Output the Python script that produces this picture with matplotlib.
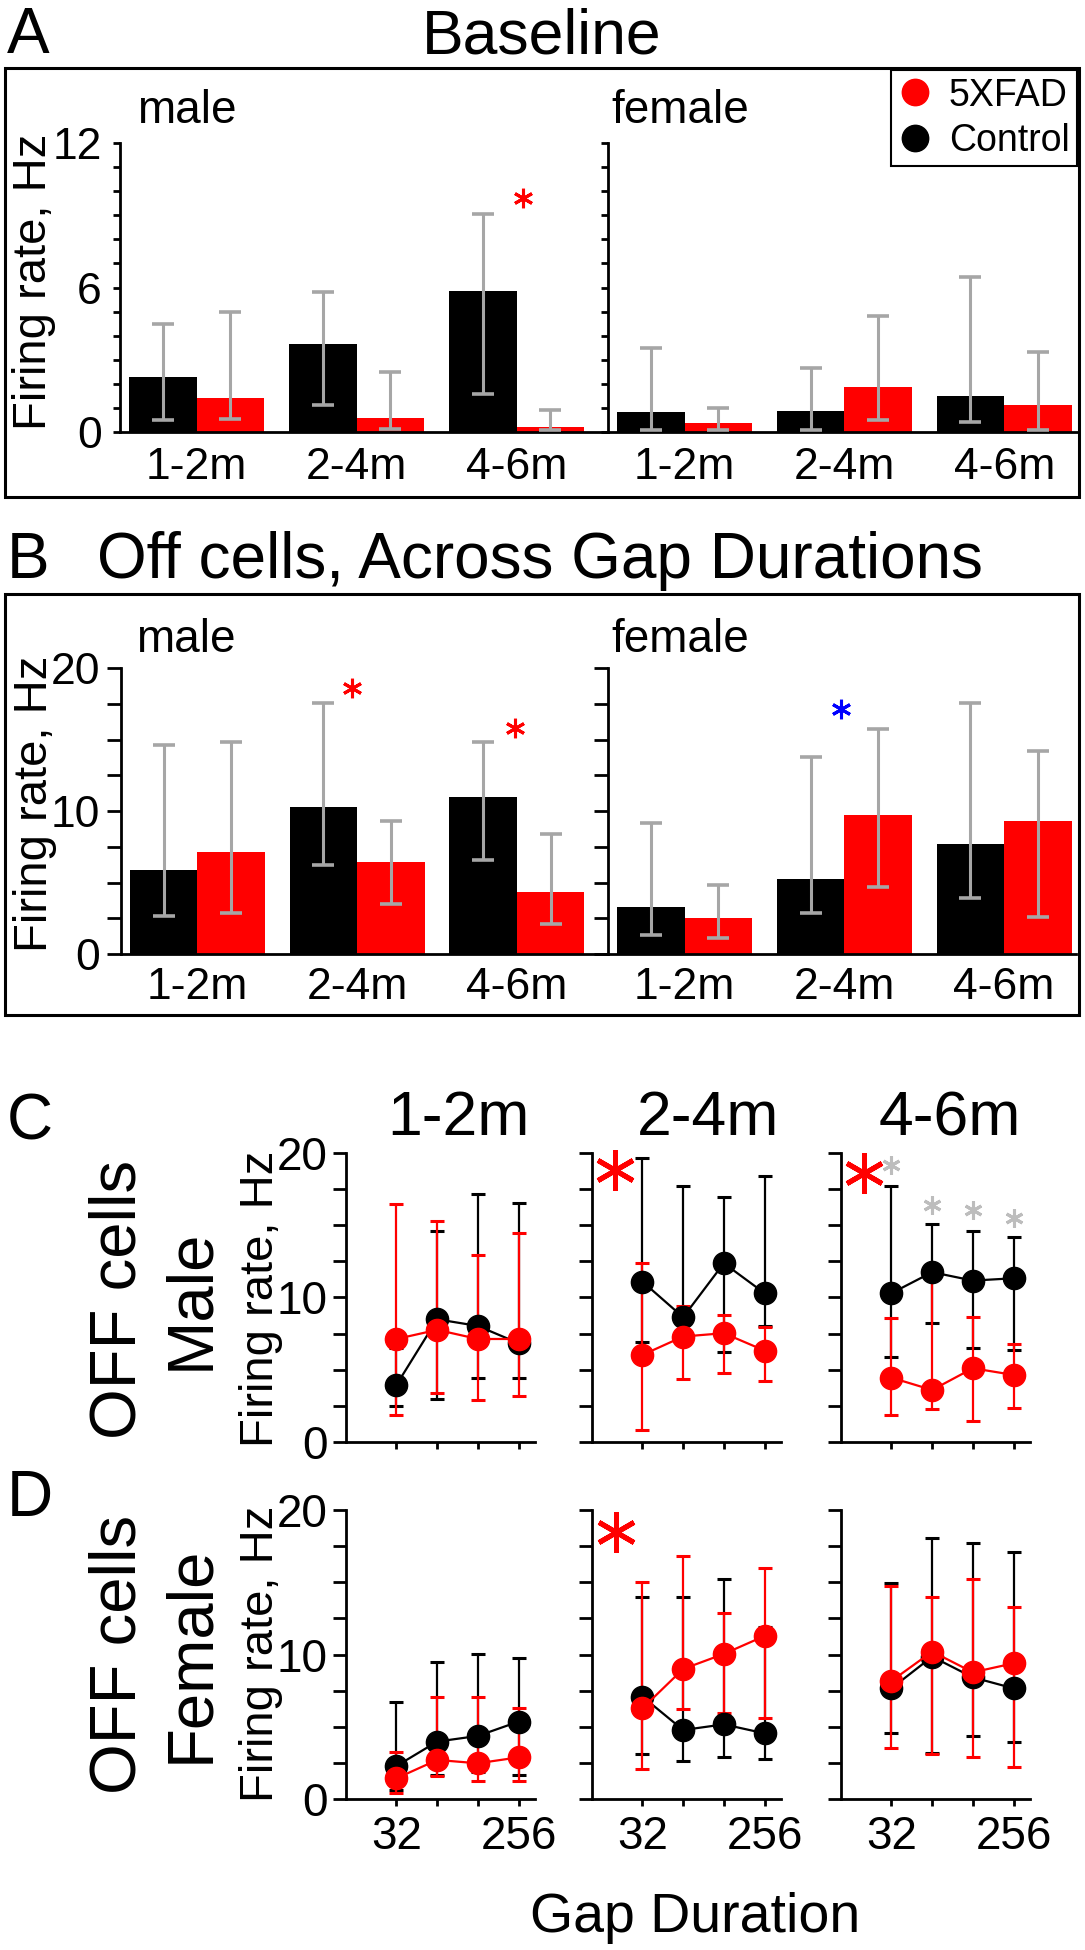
import numpy as np
import matplotlib
matplotlib.use("Agg")
import matplotlib.pyplot as plt
from matplotlib.patches import Rectangle
from matplotlib.lines import Line2D
from matplotlib.ticker import MultipleLocator

plt.rcParams['font.family'] = ['Liberation Sans', 'DejaVu Sans']

W, H, DPI = 1085, 1950, 100
RED = '#ff0000'
ERR_GRAY = '#a6a6a6'
STAR_GRAY = '#bdbdbd'
BLUE = '#0000ff'

# ── DATA ─────────────────────────────────────────────────────────────────────
groups = ['1-2m', '2-4m', '4-6m']

# Panel A: baseline firing rate (bar = median, whiskers = lo/hi)
a_male_ctrl = [2.30, 3.67, 5.85]
a_male_ctrl_lo = [0.48, 1.13, 1.57]
a_male_ctrl_hi = [4.50, 5.81, 9.04]
a_male_fad = [1.43, 0.58, 0.21]
a_male_fad_lo = [0.54, 0.12, 0.10]
a_male_fad_hi = [4.98, 2.50, 0.92]
a_fem_ctrl = [0.85, 0.89, 1.50]
a_fem_ctrl_lo = [0.10, 0.10, 0.40]
a_fem_ctrl_hi = [3.50, 2.64, 6.45]
a_fem_fad = [0.37, 1.86, 1.13]
a_fem_fad_lo = [0.10, 0.51, 0.10]
a_fem_fad_hi = [0.99, 4.80, 3.33]

# Panel B: off cells across gap durations
b_male_ctrl = [5.86, 10.28, 10.98]
b_male_ctrl_lo = [2.67, 6.21, 6.56]
b_male_ctrl_hi = [14.63, 17.53, 14.81]
b_male_fad = [7.14, 6.44, 4.35]
b_male_fad_lo = [2.88, 3.53, 2.07]
b_male_fad_hi = [14.81, 9.28, 8.42]
b_fem_ctrl = [3.30, 5.23, 7.67]
b_fem_ctrl_lo = [1.33, 2.84, 3.93]
b_fem_ctrl_hi = [9.16, 13.81, 17.53]
b_fem_fad = [2.49, 9.70, 9.28]
b_fem_fad_lo = [1.14, 4.70, 2.60]
b_fem_fad_hi = [4.86, 15.70, 14.23]

# Panels C/D: firing rate vs gap duration, one row per age group
gap_ms = [32, 64, 128, 256]
gap_labels = ['32', '', '', '256']

c_ctrl = [[3.96, 8.49, 8.03, 6.84], [11.09, 8.63, 12.36, 10.29], [10.29, 11.74, 11.16, 11.32]]
c_ctrl_lo = [[2.53, 2.99, 4.42, 4.42], [6.90, 7.40, 6.21, 8.00], [5.87, 8.22, 6.49, 6.38]]
c_ctrl_hi = [[6.49, 14.60, 17.12, 16.50], [19.65, 17.70, 16.96, 18.39], [17.70, 15.05, 14.61, 14.15]]
c_fad = [[7.13, 7.76, 7.13, 7.13], [6.03, 7.30, 7.53, 6.33], [4.46, 3.61, 5.11, 4.65]]
c_fad_lo = [[1.89, 3.38, 2.92, 3.20], [0.85, 4.35, 4.76, 4.26], [1.89, 2.30, 1.50, 2.35]]
c_fad_hi = [[16.46, 15.24, 12.93, 14.43], [12.36, 9.41, 8.80, 7.99], [8.56, 11.78, 8.63, 6.77]]

d_ctrl = [[2.30, 3.99, 4.38, 5.37], [7.10, 4.79, 5.18, 4.56], [7.67, 9.86, 8.43, 7.67]]
d_ctrl_lo = [[0.65, 1.68, 1.90, 1.68], [3.11, 2.67, 2.90, 2.76], [4.56, 3.23, 4.38, 3.94]]
d_ctrl_hi = [[6.75, 9.52, 10.05, 9.75], [13.96, 13.96, 15.21, 11.94], [14.98, 18.09, 17.74, 17.07]]
d_fad = [[1.45, 2.72, 2.49, 2.90], [6.29, 9.01, 10.05, 11.29], [8.18, 10.21, 8.78, 9.40]]
d_fad_lo = [[0.46, 1.64, 1.27, 1.27], [2.07, 6.24, 5.99, 5.65], [3.53, 3.13, 2.90, 2.26]]
d_fad_hi = [[3.29, 7.05, 7.05, 6.29], [15.00, 16.84, 12.90, 16.01], [14.77, 13.96, 15.21, 13.32]]

# significance stars: (x, y, colour); x in group index (A/B) or log2 gap (C/D)
a_male_stars = [(2.04, 9.7, RED)]
b_male_stars = [(0.97, 18.6, RED), (1.99, 15.8, RED)]
b_fem_stars = [(0.98, 17.1, BLUE)]
c_big_stars = [[], [(4.33, 18.8)], [(4.32, 18.6)]]
c_gray_stars = [[], [], [(5.0, 19.15), (6.0, 16.4), (7.0, 16.0), (8.0, 15.5)]]
d_big_stars = [[], [(4.35, 18.5)], []]

# ── LAYOUT HELPERS (pixel coordinates of the reference) ─────────────────────
fig = plt.figure(figsize=(W / DPI, H / DPI), dpi=DPI)


def fx(x):
    return x / W


def fy(y):
    return 1 - y / H


def px_axes(left, top, right, bottom):
    ax = fig.add_axes([fx(left), fy(bottom), (right - left) / W, (bottom - top) / H])
    ax.patch.set_visible(False)
    return ax


def star(ax, x, y, color, size, width):
    ax.plot([x], [y], ls='none', marker=(6, 2, 0), ms=size, mew=width,
            color=color, clip_on=False, zorder=5)


BW = 0.423


def bar_panel(ax, ctrl, ctrl_lo, ctrl_hi, fad, fad_lo, fad_hi, xlim, ymax,
              major, minor, ticklen, ylabels, ypad, xpad):
    x = np.arange(len(groups))
    for off, vals, lo, hi, col in [(-BW / 2, ctrl, ctrl_lo, ctrl_hi, 'black'),
                                   (BW / 2, fad, fad_lo, fad_hi, RED)]:
        v = np.array(vals)
        ax.bar(x + off, v, width=BW, color=col, lw=0, zorder=2)
        ax.errorbar(x + off, v, yerr=[v - np.array(lo), np.array(hi) - v],
                    fmt='none', ecolor=ERR_GRAY, elinewidth=2.2, capsize=8,
                    capthick=2.6, zorder=3)
    ax.set_xlim(*xlim)
    ax.set_ylim(0, ymax)
    ax.set_xticks(x)
    ax.set_xticklabels(groups)
    ax.yaxis.set_major_locator(MultipleLocator(major))
    ax.yaxis.set_minor_locator(MultipleLocator(minor))
    if not ylabels:
        ax.set_yticklabels([])
    ax.tick_params(axis='x', length=0, pad=xpad, labelsize=32)
    ax.tick_params(axis='y', which='both', length=ticklen, width=2, pad=ypad,
                   labelsize=32, direction='out')
    for s in ['top', 'right']:
        ax.spines[s].set_visible(False)
    for s in ['left', 'bottom']:
        ax.spines[s].set_linewidth(2)


def line_panel(ax, ctrl, clo, chi, fad, flo, fhi, ylabels, xlabels):
    xs = np.log2(gap_ms)
    for vals, lo, hi, col in [(ctrl, clo, chi, 'black'), (fad, flo, fhi, RED)]:
        v = np.array(vals)
        ax.errorbar(xs, v, yerr=[v - np.array(lo), np.array(hi) - v], color=col,
                    marker='o', ms=16, lw=1.6, elinewidth=1.6, capsize=4.8,
                    capthick=2.2)
    ax.set_xlim(3.76, 8.405)
    ax.set_ylim(0, 20)
    ax.set_xticks(xs)
    ax.set_xticklabels(gap_labels if xlabels else [])
    ax.yaxis.set_major_locator(MultipleLocator(10))
    ax.yaxis.set_minor_locator(MultipleLocator(2.5))
    if not ylabels:
        ax.set_yticklabels([])
    ax.tick_params(axis='x', length=5, width=2, pad=6, labelsize=33)
    ax.tick_params(axis='y', which='both', length=9.5, width=2, pad=3.5, labelsize=33)
    for s in ['top', 'right']:
        ax.spines[s].set_visible(False)
    for s in ['left', 'bottom']:
        ax.spines[s].set_linewidth(2)


# ── PANEL A ──────────────────────────────────────────────────────────────────
fig.text(fx(7), fy(53), 'A', fontsize=46, va='baseline')
fig.text(fx(542), fy(53), 'Baseline', fontsize=45, ha='center', va='baseline')
fig.add_artist(Rectangle((fx(5), fy(497)), fx(1079) - fx(5), fy(68) - fy(497),
                         transform=fig.transFigure, fill=False, lw=2.2, ec='black'))

axA1 = px_axes(120, 143, 608, 432)
bar_panel(axA1, a_male_ctrl, a_male_ctrl_lo, a_male_ctrl_hi,
          a_male_fad, a_male_fad_lo, a_male_fad_hi, (-0.479, 2.571), 12, 6, 1,
          5, True, 8, 11)
axA2 = px_axes(608, 143, 1078, 432)
bar_panel(axA2, a_fem_ctrl, a_fem_ctrl_lo, a_fem_ctrl_hi,
          a_fem_fad, a_fem_fad_lo, a_fem_fad_hi, (-0.479, 2.462), 12, 6, 1,
          5, False, 8, 11)
for x, y, c in a_male_stars:
    star(axA1, x, y, c, 14, 2.2)
fig.text(fx(137), fy(123), 'male', fontsize=33, va='baseline')
fig.text(fx(611), fy(123), 'female', fontsize=33, va='baseline')
fig.text(fx(46), fy(282), 'Firing rate, Hz', fontsize=34, rotation=90,
         rotation_mode='anchor', ha='center', va='baseline')

handles = [Line2D([], [], ls='none', marker='o', ms=19, color=RED, label='5XFAD'),
           Line2D([], [], ls='none', marker='o', ms=19, color='black', label='Control')]
leg = fig.legend(handles=handles, loc='upper right', bbox_to_anchor=(fx(1077), fy(70)),
                 bbox_transform=fig.transFigure, frameon=True, fancybox=False,
                 edgecolor='black', framealpha=1, fontsize=27, handlelength=0.9,
                 handletextpad=0.45, borderpad=0.2, labelspacing=0.25,
                 borderaxespad=0)
leg.get_frame().set_linewidth(1.5)

# ── PANEL B ──────────────────────────────────────────────────────────────────
fig.text(fx(7), fy(578), 'B', fontsize=46, va='baseline')
fig.text(fx(97), fy(578), 'Off cells, Across Gap Durations', fontsize=46, va='baseline')
fig.add_artist(Rectangle((fx(5), fy(1015)), fx(1079) - fx(5), fy(594) - fy(1015),
                         transform=fig.transFigure, fill=False, lw=2.2, ec='black'))

axB1 = px_axes(121, 668, 608, 954)
bar_panel(axB1, b_male_ctrl, b_male_ctrl_lo, b_male_ctrl_hi,
          b_male_fad, b_male_fad_lo, b_male_fad_hi, (-0.479, 2.571), 20, 10, 2.5,
          10, True, 5, 9.5)
axB2 = px_axes(608, 668, 1076, 954)
bar_panel(axB2, b_fem_ctrl, b_fem_ctrl_lo, b_fem_ctrl_hi,
          b_fem_fad, b_fem_fad_lo, b_fem_fad_hi, (-0.479, 2.45), 20, 10, 2.5,
          10, False, 5, 9.5)
for x, y, c in b_male_stars:
    star(axB1, x, y, c, 14, 2.2)
for x, y, c in b_fem_stars:
    star(axB2, x, y, c, 14, 2.2)
fig.text(fx(136), fy(652), 'male', fontsize=33, va='baseline')
fig.text(fx(611), fy(652), 'female', fontsize=33, va='baseline')
fig.text(fx(47), fy(804), 'Firing rate, Hz', fontsize=34, rotation=90,
         rotation_mode='anchor', ha='center', va='baseline')

# ── PANELS C / D ─────────────────────────────────────────────────────────────
col_left = [346, 592, 841]
col_title_x = [458, 708, 950]
for i in range(3):
    fig.text(fx(col_title_x[i]), fy(1135), groups[i], fontsize=45, ha='center',
             va='baseline')

fig.text(fx(7), fy(1140), 'C', fontsize=46, va='baseline')
fig.text(fx(7), fy(1516), 'D', fontsize=46, va='baseline')

for i in range(3):
    axc = px_axes(col_left[i], 1152.5, col_left[i] + 189, 1442.3)
    line_panel(axc, c_ctrl[i], c_ctrl_lo[i], c_ctrl_hi[i],
               c_fad[i], c_fad_lo[i], c_fad_hi[i], i == 0, False)
    for x, y in c_big_stars[i]:
        star(axc, x, y, RED, 29, 3.6)
    for x, y in c_gray_stars[i]:
        star(axc, x, y, STAR_GRAY, 13, 2.2)

    axd = px_axes(col_left[i], 1510, col_left[i] + 189, 1799.3)
    line_panel(axd, d_ctrl[i], d_ctrl_lo[i], d_ctrl_hi[i],
               d_fad[i], d_fad_lo[i], d_fad_hi[i], i == 0, True)
    for x, y in d_big_stars[i]:
        star(axd, x, y, RED, 29, 3.6)

for yc, row in [(1299, 'Male'), (1654, 'Female')]:
    fig.text(fx(135), fy(yc), 'OFF cells', fontsize=47, rotation=90,
             rotation_mode='anchor', ha='center', va='baseline')
    fig.text(fx(208), fy(yc), row, fontsize=47, rotation=90,
             rotation_mode='anchor', ha='center', va='baseline')
    fig.text(fx(273), fy(yc), 'Firing rate, Hz', fontsize=34, rotation=90,
             rotation_mode='anchor', ha='center', va='baseline')

fig.text(fx(695), fy(1932), 'Gap Duration', fontsize=40, ha='center', va='baseline')

fig.savefig('out.png', dpi=DPI)
